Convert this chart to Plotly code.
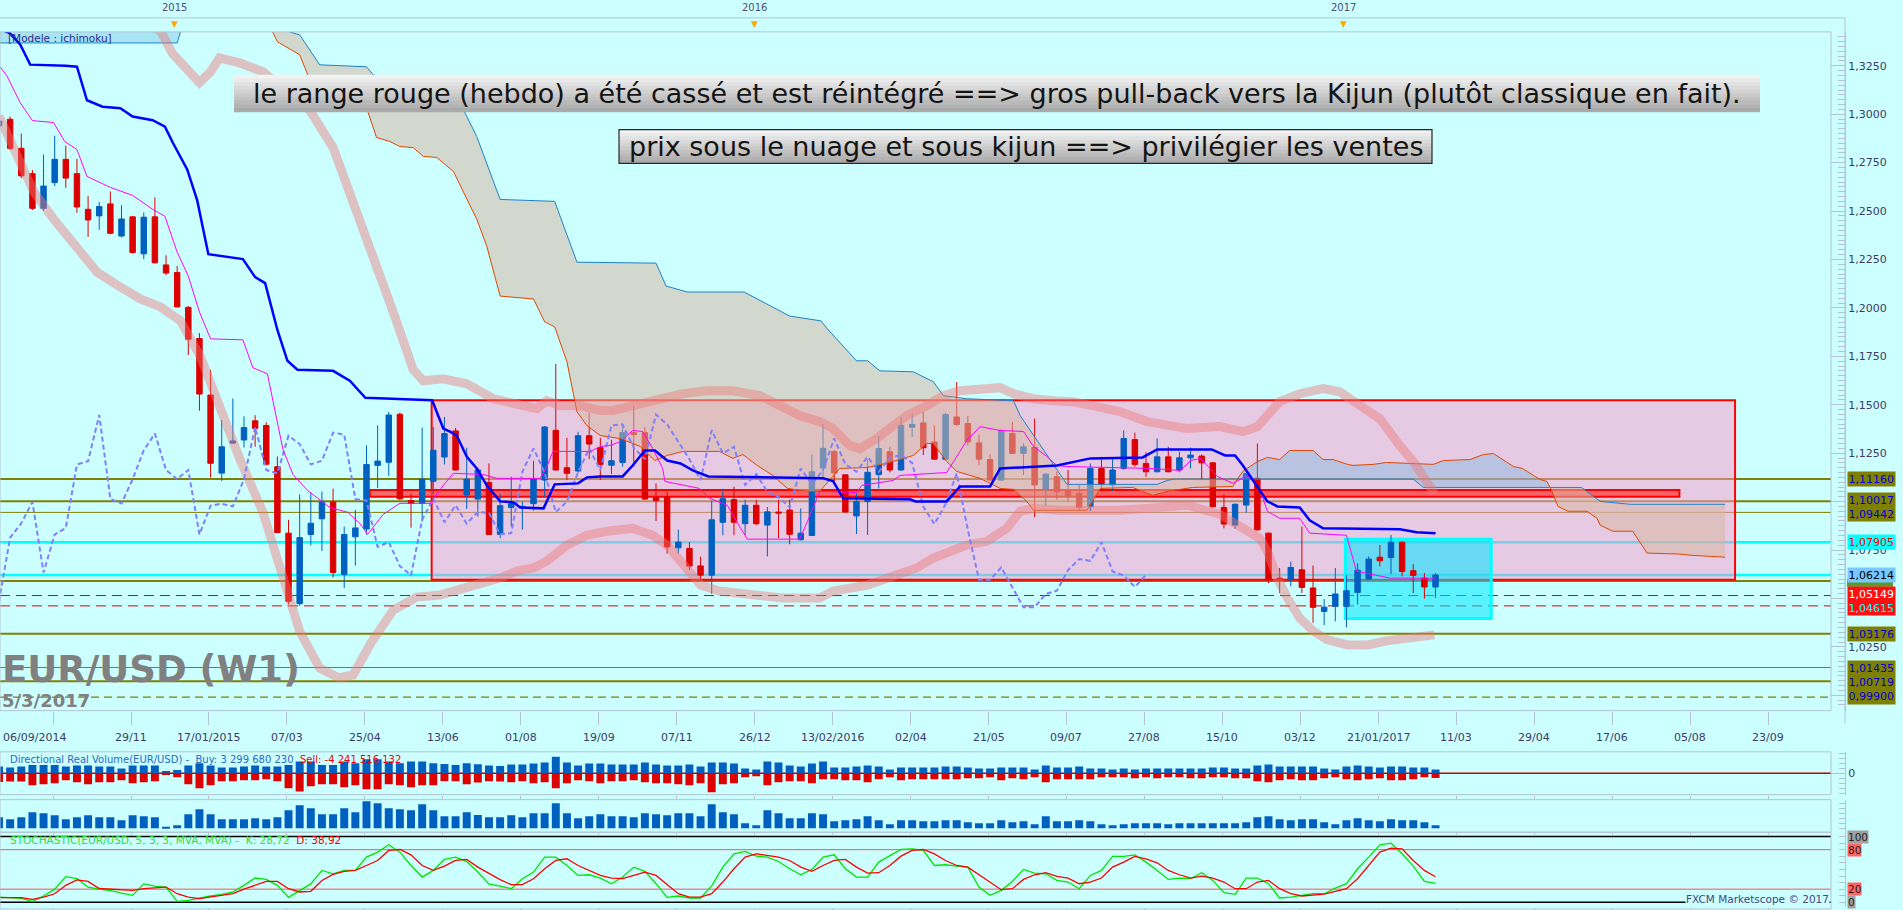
import datetime as dt
import plotly.graph_objects as go

FIG_W, FIG_H = 1903, 910
PLOT_W = 1845                       # plot area width, price labels live in the right margin
START = dt.datetime(2014, 9, 7)     # week of the first weekly candle

BG = "#ccffff"
FRAME = "#b4c3d2"
AXIS_TXT = "#3c3c64"
BULL = "#0060c0"
BEAR = "#dd0000"
OLIVE = "#808000"
FONT = "DejaVu Sans"

# ---------------- weekly EUR/USD candles (week of 07/09/2014 .. 26/02/2017) ----------------
opens = [
    1.2940, 1.2974, 1.2824, 1.2693, 1.2514, 1.2647, 1.2767, 1.2693, 1.2509, 1.2475,
    1.2537, 1.2371, 1.2470, 1.2279, 1.2470, 1.2222, 1.2183, 1.2003, 1.1842, 1.1550,
    1.1147, 1.1302, 1.1318, 1.1417, 1.1393, 1.1180, 1.0837, 1.0473, 1.0830, 1.0911,
    1.0998, 1.0623, 1.0818, 1.0858, 1.1187, 1.1203, 1.1451, 1.1005, 1.0991, 1.1105,
    1.1230, 1.1365, 1.1034, 1.1013, 1.1099, 1.0831, 1.0969, 1.0970, 1.0989, 1.1111,
    1.1368, 1.1175, 1.1158, 1.1340, 1.1279, 1.1188, 1.1202, 1.1356, 1.1356, 1.1020,
    1.1025, 1.0761, 1.0758, 1.0668, 1.0620, 1.0893, 1.1010, 1.0886, 1.0981, 1.0879,
    1.0946, 1.0956, 1.0803, 1.0825, 1.1174, 1.1258, 1.1138, 1.0926, 1.1000, 1.1140,
    1.1257, 1.1163, 1.1384, 1.1406, 1.1308, 1.1219, 1.1437, 1.1403, 1.1303, 1.1217,
    1.1111, 1.1351, 1.1249, 1.1280, 1.1063, 1.1128, 1.1054, 1.1042, 1.0974, 1.1171,
    1.1086, 1.1171, 1.1320, 1.1197, 1.1154, 1.1231, 1.1163, 1.1226, 1.1235, 1.1200,
    1.0970, 1.0879, 1.0982, 1.1120, 1.0837, 1.0605, 1.0597, 1.0648, 1.0554, 1.0433,
    1.0459, 1.0459, 1.0531, 1.0600, 1.0713, 1.0711, 1.0790, 1.0643, 1.0605, 1.0559,
]
highs = [
    1.2990, 1.2988, 1.2900, 1.2712, 1.2792, 1.2889, 1.2838, 1.2769, 1.2578, 1.2546,
    1.2601, 1.2530, 1.2475, 1.2493, 1.2571, 1.2272, 1.2217, 1.2010, 1.1870, 1.1681,
    1.1421, 1.1532, 1.1440, 1.1446, 1.1410, 1.1233, 1.0906, 1.1037, 1.1048, 1.1051,
    1.1067, 1.0871, 1.0957, 1.1290, 1.1394, 1.1463, 1.1460, 1.1040, 1.1382, 1.1386,
    1.1437, 1.1380, 1.1278, 1.1175, 1.1197, 1.1040, 1.1128, 1.1000, 1.1211, 1.1390,
    1.1711, 1.1329, 1.1360, 1.1459, 1.1329, 1.1320, 1.1389, 1.1494, 1.1386, 1.1094,
    1.1051, 1.0855, 1.0791, 1.0716, 1.1006, 1.1066, 1.1077, 1.1010, 1.1010, 1.0972,
    1.1010, 1.1010, 1.0965, 1.1243, 1.1400, 1.1267, 1.1140, 1.1043, 1.1218, 1.1339,
    1.1283, 1.1437, 1.1454, 1.1463, 1.1394, 1.1459, 1.1617, 1.1442, 1.1346, 1.1243,
    1.1372, 1.1412, 1.1300, 1.1429, 1.1145, 1.1154, 1.1163, 1.1085, 1.1197, 1.1231,
    1.1219, 1.1368, 1.1356, 1.1254, 1.1326, 1.1283, 1.1257, 1.1279, 1.1243, 1.1205,
    1.1037, 1.0990, 1.1148, 1.1300, 1.0840, 1.0657, 1.0691, 1.0871, 1.0670, 1.0497,
    1.0657, 1.0622, 1.0682, 1.0717, 1.0776, 1.0828, 1.0795, 1.0677, 1.0631, 1.0631,
]
lows = [
    1.2860, 1.2815, 1.2670, 1.2505, 1.2501, 1.2629, 1.2620, 1.2491, 1.2367, 1.2403,
    1.2380, 1.2364, 1.2279, 1.2252, 1.2229, 1.2169, 1.2003, 1.1757, 1.1469, 1.1124,
    1.1106, 1.1298, 1.1279, 1.1283, 1.1186, 1.0837, 1.0469, 1.0462, 1.0773, 1.0745,
    1.0607, 1.0554, 1.0669, 1.0830, 1.1071, 1.1133, 1.1009, 1.0865, 1.0897, 1.1039,
    1.1192, 1.1160, 1.0962, 1.0923, 1.0828, 1.0811, 1.0871, 1.0855, 1.0953, 1.1025,
    1.1160, 1.1111, 1.1150, 1.1219, 1.1111, 1.1142, 1.1180, 1.1180, 1.1010, 1.0900,
    1.0732, 1.0732, 1.0647, 1.0595, 1.0523, 1.0826, 1.0827, 1.0827, 1.0878, 1.0717,
    1.0811, 1.0780, 1.0800, 1.0822, 1.1117, 1.1100, 1.0944, 1.0833, 1.0828, 1.1068,
    1.1151, 1.1160, 1.1334, 1.1240, 1.1217, 1.1217, 1.1391, 1.1288, 1.1188, 1.1109,
    1.1108, 1.1247, 1.1137, 1.0919, 1.0977, 1.1011, 1.1000, 1.0957, 1.0951, 1.1054,
    1.1054, 1.1163, 1.1180, 1.1128, 1.1151, 1.1151, 1.1151, 1.1171, 1.1111, 1.0970,
    1.0862, 1.0859, 1.0943, 1.0850, 1.0579, 1.0528, 1.0562, 1.0528, 1.0374, 1.0362,
    1.0382, 1.0351, 1.0468, 1.0597, 1.0665, 1.0626, 1.0614, 1.0528, 1.0499, 1.0502,
]
closes = [
    1.2965, 1.2824, 1.2682, 1.2514, 1.2629, 1.2767, 1.2670, 1.2521, 1.2454, 1.2523,
    1.2385, 1.2459, 1.2286, 1.2468, 1.2233, 1.2180, 1.2005, 1.1838, 1.1555, 1.1198,
    1.1283, 1.1313, 1.1382, 1.1378, 1.1193, 1.0840, 1.0485, 1.0814, 1.0888, 1.0998,
    1.0634, 1.0830, 1.0864, 1.1191, 1.1209, 1.1447, 1.1014, 1.0990, 1.1116, 1.1265,
    1.1351, 1.1163, 1.1116, 1.1163, 1.0830, 1.0979, 1.0989, 1.0975, 1.1116, 1.1385,
    1.1163, 1.1146, 1.1340, 1.1297, 1.1192, 1.1211, 1.1356, 1.1346, 1.1013, 1.1005,
    1.0766, 1.0791, 1.0667, 1.0620, 1.0906, 1.1015, 1.0893, 1.0981, 1.0886, 1.0947,
    1.0941, 1.0831, 1.0837, 1.1154, 1.1275, 1.1148, 1.0946, 1.1000, 1.1151, 1.1274,
    1.1163, 1.1394, 1.1398, 1.1278, 1.1219, 1.1449, 1.1398, 1.1308, 1.1219, 1.1111,
    1.1368, 1.1249, 1.1283, 1.1086, 1.1142, 1.1051, 1.1025, 1.0970, 1.1171, 1.1089,
    1.1163, 1.1326, 1.1192, 1.1154, 1.1231, 1.1154, 1.1226, 1.1240, 1.1200, 1.0974,
    1.0884, 1.0986, 1.1145, 1.0854, 1.0597, 1.0597, 1.0660, 1.0557, 1.0454, 1.0455,
    1.0523, 1.0540, 1.0646, 1.0703, 1.0694, 1.0790, 1.0639, 1.0619, 1.0559, 1.06214,
]

# ---------------- ichimoku lines (x = weeks after first candle) ----------------
tenkan_wk = [0.1, 0.7, 1.9, 3.0, 4.9, 5.9, 7.0, 7.9, 10.0, 12.0, 13.8, 14.9, 16.0, 17.0, 18.0,
             19.0, 21.9, 22.8, 24.1, 25.0, 25.5, 26.4, 27.7, 29.7, 31.3, 32.4, 33.1, 34.5, 36.0, 38.7,
             39.9, 40.8, 43.5, 44.7, 48.6, 49.2, 49.75, 53.1, 54.0, 54.9, 55.8, 56.9, 57.8, 58.7, 59.6,
             59.8, 62.9, 63.8, 65.4, 65.9, 67.2, 71.9, 72.6, 73.7, 77.0, 77.5, 80.3, 80.9, 85.1, 86.3,
             86.9, 88.1, 89.9, 92.0, 92.9, 94.1, 95.0, 95.9, 101.8, 103.4, 106.1, 107.0, 107.9, 109.4, 110.8,
             112.1, 113.2, 113.9, 115.0, 116.8, 117.7, 121.0, 121.9, 124.9, 129.0]
tenkan_val = [1.3245, 1.3199, 1.3060, 1.2967, 1.2957, 1.2859, 1.2818, 1.2679, 1.2622, 1.2581, 1.2509, 1.2473, 1.2288, 1.2164, 1.1979,
              1.1840, 1.1835, 1.1691, 1.1660, 1.1403, 1.1269, 1.1140, 1.1058, 1.0970, 1.0945, 1.0888, 1.0831, 1.0934, 1.0991, 1.0991,
              1.1084, 1.1146, 1.1140, 1.1120, 1.1120, 1.1181, 1.1259, 1.1259, 1.1284, 1.1290, 1.1310, 1.1367, 1.1362, 1.1274, 1.1171,
              1.1104, 1.1068, 1.1017, 1.0981, 1.0929, 1.0806, 1.0806, 1.0898, 1.1053, 1.1047, 1.1084, 1.1109, 1.1135, 1.1150, 1.1259,
              1.1315, 1.1387, 1.1367, 1.1362, 1.1284, 1.1233, 1.1186, 1.1181, 1.1176, 1.1171, 1.1161, 1.1212, 1.1223, 1.1130, 1.1094,
              1.1135, 1.1068, 1.0950, 1.0914, 1.0914, 1.0837, 1.0826, 1.0641, 1.0605, 1.0605]

kijun_wk = [0.1, 1.0, 1.9, 2.8, 6.0, 7.0, 7.9, 9.3, 10.9, 12.0, 13.8, 14.9, 15.6, 16.9, 17.8,
            18.8, 21.9, 23.0, 23.9, 25.0, 25.9, 26.8, 30.0, 31.5, 32.9, 38.9, 39.3, 39.9, 40.5, 41.1,
            42.0, 42.9, 43.8, 45.0, 46.2, 46.8, 48.9, 49.3, 49.9, 52.0, 52.8, 54.0, 56.0, 56.9, 58.0,
            58.9, 60.0, 61.2, 62.3, 63.7, 74.0, 74.9, 75.8, 81.8, 82.3, 85.1, 86.3, 89.0, 89.9, 95.0,
            98.0, 102.7, 104.0, 108.9, 110.1, 111.0, 111.7, 113.9, 114.8, 116.8, 117.7, 118.9, 125.8, 127.3, 129.0]
kijun_val = [1.3440, 1.3417, 1.3360, 1.3256, 1.3250, 1.3245, 1.3072, 1.3039, 1.3031, 1.2988, 1.2969, 1.2936, 1.2854, 1.2715, 1.2555,
             1.2277, 1.2252, 1.2159, 1.2128, 1.1886, 1.1727, 1.1681, 1.1675, 1.1624, 1.1536, 1.1523, 1.1464, 1.1377, 1.1361, 1.1341,
             1.1233, 1.1171, 1.1084, 1.1001, 1.0996, 1.0970, 1.0965, 1.1017, 1.1089, 1.1094, 1.1125, 1.1130, 1.1130, 1.1186, 1.1264,
             1.1264, 1.1212, 1.1197, 1.1161, 1.1130, 1.1120, 1.1106, 1.1017, 1.1012, 1.1001, 1.1001, 1.1078, 1.1078, 1.1171, 1.1186,
             1.1223, 1.1228, 1.1269, 1.1269, 1.1238, 1.1238, 1.1186, 1.1001, 1.0975, 1.0970, 1.0903, 1.0862, 1.0857, 1.0842, 1.0837]

senkou_a_wk = [0, 23.8, 24.4, 25.0, 27.0, 27.9, 31.5, 33.0, 33.9, 35.1, 36.0, 37.2, 38.1, 39.3, 40.8,
               42.9, 43.8, 45.0, 48.0, 49.0, 49.9, 51.0, 51.9, 52.8, 54.0, 55.8, 57.6, 58.9, 60.0, 61.4,
               64.7, 65.9, 66.8, 68.1, 69.5, 70.8, 72.6, 73.7, 75.5, 78.0, 80.0, 82.1, 83.3, 83.9, 85.1,
               86.0, 88.1, 89.9, 91.1, 92.3, 92.9, 97.7, 98.9, 101.8, 103.6, 104.9, 107.2, 110.8, 111.2, 111.7,
               113.0, 113.9, 115.0, 115.9, 118.0, 118.9, 119.8, 121.1, 121.6, 123.4, 124.6, 127.3, 128.8, 129.7, 132.1,
               133.3, 134.2, 136.0, 136.8, 137.8, 138.4, 139.0, 139.3, 140.0, 140.9, 142.6, 143.5, 143.8, 144.9, 146.7,
               148.0, 150.9, 151.9, 153.4, 155.0]
senkou_a_val = [1.3700, 1.3700, 1.3445, 1.3374, 1.3307, 1.3178, 1.3127, 1.3034, 1.2880, 1.2859, 1.2833, 1.2828, 1.2782, 1.2777, 1.2705,
                1.2458, 1.2319, 1.2061, 1.2046, 1.1928, 1.1902, 1.1722, 1.1464, 1.1392, 1.1341, 1.1325, 1.1284, 1.1212, 1.1238, 1.1259,
                1.1259, 1.1223, 1.1243, 1.1186, 1.1135, 1.1068, 1.1053, 1.1053, 1.1171, 1.1176, 1.1202, 1.1238, 1.1300, 1.1300, 1.1207,
                1.1156, 1.1120, 1.1068, 1.1063, 1.1001, 1.0955, 1.0955, 1.1068, 1.1073, 1.1032, 1.1053, 1.1073, 1.1078, 1.1116, 1.1156,
                1.1207, 1.1228, 1.1217, 1.1264, 1.1264, 1.1217, 1.1217, 1.1192, 1.1187, 1.1192, 1.1202, 1.1197, 1.1192, 1.1212, 1.1217,
                1.1243, 1.1248, 1.1181, 1.1171, 1.1135, 1.1114, 1.1104, 1.1073, 1.0975, 1.0950, 1.0950, 1.0914, 1.0878, 1.0847, 1.0847,
                1.0734, 1.0729, 1.0723, 1.0718, 1.0713]

senkou_b_wk = [0, 16.0, 16.4, 24.4, 26.0, 26.1, 27.0, 28.8, 33.0, 33.6, 41.7, 42.9, 45.0, 49.9, 51.9,
               59.0, 59.9, 61.8, 66.9, 71.0, 73.8, 74.4, 77.0, 78.0, 79.1, 82.1, 83.9, 84.8, 86.9, 91.1,
               91.7, 92.9, 94.1, 95.9, 104.0, 104.9, 105.5, 111.2, 127.0, 127.9, 139.3, 142.1, 143.8, 146.5, 155.0]
senkou_b_val = [1.3368, 1.3368, 1.3445, 1.3445, 1.3440, 1.3425, 1.3410, 1.3255, 1.3245, 1.3204, 1.3024, 1.2885, 1.2560, 1.2550, 1.2236,
                1.2231, 1.2113, 1.2082, 1.2082, 1.1958, 1.1933, 1.1891, 1.1727, 1.1727, 1.1675, 1.1670, 1.1619, 1.1547, 1.1531, 1.1521,
                1.1444, 1.1341, 1.1238, 1.1089, 1.1089, 1.1109, 1.1116, 1.1116, 1.1116, 1.1073, 1.1073, 1.1073, 1.1001, 1.0986, 1.0986]

# cloud pieces between the crossings of senkou A and B: (from week, to week, A above B?)
cloud_parts = [(0, 24.4, True), (24.4, 111.2, False), (111.2, 139.3, True), (139.3, 155.0, False)]

# thick pink envelope (upper / lower band)
upper_wk = [13.0, 14.5, 15.6, 16.9, 18.0, 19.0, 19.8, 21.6, 23.7, 25.5, 27.7, 30.0, 31.8, 33.6, 35.4,
            37.2, 38.1, 39.9, 42.0, 44.4, 46.5, 48.3, 49.2, 50.4, 52.2, 54.0, 55.1, 56.9, 59.4, 61.4,
            63.6, 65.9, 68.3, 70.1, 71.9, 73.7, 74.9, 76.4, 77.3, 78.8, 80.0, 81.5, 83.3, 84.8, 86.3,
            88.1, 89.9, 91.1, 92.9, 94.7, 96.4, 98.2, 100.7, 103.1, 104.9, 106.7, 109.6, 111.7, 113.0, 113.9,
            115.0, 116.8, 118.9, 120.4, 122.2, 124.0, 125.8, 127.0, 128.2, 128.9]
upper_val = [1.3480, 1.3430, 1.3312, 1.3235, 1.3163, 1.3219, 1.3291, 1.3265, 1.3219, 1.3132, 1.3039, 1.2828, 1.2555, 1.2257, 1.1979,
             1.1681, 1.1624, 1.1634, 1.1608, 1.1531, 1.1506, 1.1480, 1.1521, 1.1495, 1.1495, 1.1470, 1.1470, 1.1495, 1.1531, 1.1557,
             1.1572, 1.1572, 1.1547, 1.1495, 1.1444, 1.1413, 1.1377, 1.1289, 1.1274, 1.1325, 1.1377, 1.1444, 1.1495, 1.1547, 1.1572,
             1.1583, 1.1588, 1.1557, 1.1531, 1.1521, 1.1516, 1.1495, 1.1464, 1.1413, 1.1392, 1.1377, 1.1387, 1.1361, 1.1387, 1.1444,
             1.1516, 1.1557, 1.1583, 1.1567, 1.1495, 1.1428, 1.1289, 1.1207, 1.1104, 1.1042]
lower_wk = [0.0, 1.3, 3.1, 4.85, 7.0, 8.8, 10.6, 12.7, 14.5, 16.3, 18.1, 19.6, 21.6, 23.7, 25.5,
            27.0, 28.8, 30.5, 31.8, 33.4, 35.4, 37.5, 39.6, 42.0, 45.0, 46.5, 48.0, 49.2, 51.0, 52.8,
            54.6, 56.9, 58.7, 60.0, 61.8, 63.0, 64.7, 67.2, 70.4, 73.7, 74.9, 78.0, 80.9, 82.4, 83.9,
            85.4, 86.9, 88.7, 90.5, 91.7, 92.9, 95.3, 97.7, 100.7, 103.1, 104.9, 106.7, 109.6, 111.4, 113.2,
            113.9, 114.8, 115.7, 116.8, 118.0, 119.3, 121.1, 122.9, 124.6, 126.4, 128.2, 128.9]
lower_val = [1.2990, 1.2828, 1.2602, 1.2463, 1.2303, 1.2185, 1.2118, 1.2046, 1.2005, 1.1933, 1.1747, 1.1521, 1.1223, 1.0945, 1.0600,
             1.0330, 1.0140, 1.0090, 1.0105, 1.0270, 1.0440, 1.0507, 1.0518, 1.0554, 1.0605, 1.0641, 1.0657, 1.0693, 1.0775, 1.0826,
             1.0847, 1.0862, 1.0826, 1.0775, 1.0657, 1.0569, 1.0538, 1.0518, 1.0502, 1.0502, 1.0538, 1.0569, 1.0620, 1.0657, 1.0708,
             1.0744, 1.0775, 1.0795, 1.0862, 1.0950, 1.0965, 1.0955, 1.0950, 1.0955, 1.0965, 1.0975, 1.0981, 1.0935, 1.0878, 1.0811,
             1.0744, 1.0605, 1.0502, 1.0399, 1.0332, 1.0286, 1.0260, 1.0260, 1.0281, 1.0296, 1.0312, 1.0312]

# ---------------- drawn objects ----------------
range_box = (38.85, 155.9, 1.0596, 1.1523)      # weeks from, weeks to, low, high
weekly_bar = (33.3, 150.9, 1.1025, 1.1060)
cyan_box = (120.9, 134.0, 1.0396, 1.0806)

level_prices = [1.05900, 1.11160, 1.10017, 1.09442, 1.07905, 1.06214, 1.05149, 1.04615,
                1.03176, 1.01435, 1.00719, 0.99900]
level_kinds = ["olive", "olive", "olive", "olive_thin", "cyan", "last", "red", "red",
               "olive", "olive_thin", "olive", "olive_dash"]
level_fg = ["#0000dd", "#0000dd", "#0000dd", "#0000dd", "#ff0000", "#000000", "#ffffff", "#00ffff",
            "#0000dd", "#0000dd", "#0000dd", "#0000dd"]
# price tags in the right margin: levels sharing one tag, and the tag colour
tag_groups = [[1], [2, 3], [4], [5], [6, 7], [8], [9, 10, 11]]
tag_bg = [OLIVE, OLIVE, "#00ffff", "#78c8ff", "#ff1010", OLIVE, OLIVE]

# price axis: ticks every 0,0250; the labels sitting under a price tag are not readable
price_ticks = [1.0000, 1.0250, 1.0500, 1.0750, 1.1000, 1.1250, 1.1500, 1.1750,
               1.2000, 1.2250, 1.2500, 1.2750, 1.3000, 1.3250]
price_tick_text = ["", "1,0250", "", "1,0750", "", "1,1250", "1,1500", "1,1750",
                   "1,2000", "1,2250", "1,2500", "1,2750", "1,3000", "1,3250"]

# ---------------- lower panels ----------------
buy_volume = [
    6.0, 5.1, 6.0, 7.5, 7.5, 7.5, 6.0, 6.9, 6.9, 6.0,
    6.0, 4.2, 6.9, 6.9, 6.9, 2.1, 3.0, 6.9, 9.0, 6.9,
    5.1, 5.1, 6.0, 6.9, 6.0, 6.0, 7.5, 10.5, 10.5, 7.5,
    7.5, 10.5, 9.0, 12.6, 12.6, 10.5, 9.0, 10.5, 10.5, 9.0,
    8.4, 7.5, 9.0, 8.1, 6.9, 6.6, 7.8, 7.8, 8.7, 9.6,
    15.0, 9.6, 6.9, 8.7, 8.7, 7.8, 7.8, 7.8, 9.6, 7.8,
    6.9, 6.9, 7.8, 6.0, 9.6, 9.6, 8.7, 4.2, 3.3, 10.5,
    9.6, 6.9, 6.0, 8.7, 10.5, 5.1, 5.1, 6.0, 6.9, 6.0,
    3.3, 5.1, 5.1, 5.1, 5.1, 6.0, 6.0, 5.1, 4.2, 4.2,
    5.1, 5.1, 5.1, 3.3, 6.9, 5.1, 5.1, 6.0, 4.2, 4.2,
    3.3, 4.2, 3.3, 4.2, 4.2, 4.2, 4.2, 4.2, 4.2, 5.1,
    5.1, 4.2, 4.2, 6.9, 7.8, 6.0, 6.0, 6.0, 6.0, 4.2,
    3.3, 6.0, 6.9, 6.0, 5.1, 6.0, 6.0, 5.1, 5.1, 3.30,
]
sell_volume = [
    7.8, 7.5, 7.5, 10.8, 9.9, 9.0, 6.3, 8.1, 9.9, 8.1,
    8.1, 6.3, 9.0, 8.1, 7.2, 1.5, 3.6, 9.9, 13.5, 10.8,
    7.2, 7.2, 6.3, 6.3, 5.4, 7.2, 13.5, 16.5, 11.7, 9.9,
    9.9, 12.6, 10.8, 14.4, 14.4, 9.9, 10.8, 12.6, 10.8, 10.8,
    7.2, 7.2, 9.9, 8.4, 7.2, 7.5, 8.1, 7.2, 9.0, 8.1,
    13.5, 9.0, 6.3, 7.2, 9.0, 7.2, 7.2, 6.3, 8.1, 9.0,
    9.0, 9.9, 10.8, 9.0, 17.1, 9.9, 9.0, 3.6, 2.7, 10.8,
    8.1, 7.2, 7.2, 9.0, 5.4, 5.4, 6.3, 6.3, 8.1, 5.4,
    3.6, 6.3, 5.4, 5.4, 5.4, 5.4, 5.4, 4.5, 4.5, 3.6,
    6.3, 4.5, 5.4, 3.6, 8.1, 5.4, 5.4, 5.4, 5.4, 3.6,
    3.6, 3.6, 4.5, 3.6, 4.5, 3.6, 3.6, 4.5, 4.5, 3.6,
    3.6, 4.5, 4.5, 7.2, 8.1, 6.3, 5.4, 6.3, 6.3, 4.5,
    3.6, 5.4, 6.3, 5.4, 4.5, 6.3, 6.3, 5.4, 3.6, 4.24,
]
total_volume = [
    9.9, 8.1, 9.9, 14.4, 13.5, 11.7, 8.1, 9.9, 11.7, 9.9,
    9.9, 7.2, 11.7, 10.8, 9.9, 0.9, 2.7, 12.6, 17.1, 12.6,
    8.1, 8.1, 8.1, 9.0, 8.1, 9.9, 16.2, 20.7, 18.0, 12.6,
    12.6, 18.0, 14.4, 24.3, 22.5, 18.0, 17.1, 16.2, 21.6, 16.2,
    10.8, 10.8, 14.4, 12.0, 9.9, 9.9, 11.7, 9.9, 13.5, 13.5,
    22.5, 13.5, 9.0, 10.8, 12.6, 10.8, 10.8, 9.9, 13.5, 12.6,
    11.7, 13.5, 13.5, 10.8, 21.6, 14.4, 12.6, 4.5, 2.7, 16.2,
    13.5, 9.0, 9.0, 13.5, 12.6, 6.3, 7.2, 8.1, 10.8, 7.2,
    3.6, 7.2, 7.2, 6.3, 6.3, 7.2, 7.2, 5.4, 4.5, 4.5,
    7.2, 5.4, 6.3, 3.6, 10.8, 6.3, 6.3, 7.2, 6.3, 3.6,
    2.7, 3.6, 4.5, 4.5, 4.5, 3.6, 4.5, 4.5, 4.5, 4.5,
    4.5, 4.5, 5.4, 9.9, 10.8, 8.1, 7.2, 8.1, 8.1, 5.4,
    3.6, 7.2, 9.0, 7.2, 6.3, 8.1, 7.2, 7.2, 5.4, 2.7,
]
stoch_k = [
    8, 7, 6, 1.5, 9.6, 20, 39, 36, 23, 20,
    18, 14, 10.6, 28, 24.7, 23, 1.5, 3, 6.6, 9.6,
    12, 15.7, 25.8, 36.9, 34.8, 25.8, 7.6, 18, 28, 48.5,
    43.4, 48.5, 48.5, 68.7, 76.3, 87.4, 76.3, 56, 38.4, 48.5,
    65.2, 68.7, 62, 46, 27.5, 24.7, 20.7, 35.9, 46, 68.7,
    68.7, 56, 40.9, 41.9, 36.9, 28.3, 38.4, 53.5, 47, 28.3,
    7.6, 9.6, 6.6, 6.6, 25, 53.5, 73.7, 77.3, 70.2, 68.7,
    62.1, 51, 41.9, 50, 68.7, 72.2, 51, 38.4, 38.4, 61.1,
    70.2, 80.3, 81.3, 78.8, 56, 57.1, 55, 53.5, 23.2, 10.6,
    18.2, 31.8, 50, 44.4, 43.4, 33.3, 30.8, 20.7, 40.9, 48.5,
    69.7, 69.7, 72.2, 61.1, 48.5, 34.8, 36.9, 35.9, 45, 33.3,
    14.6, 12.1, 36.9, 36.9, 28.3, 6.6, 8, 10.6, 13.1, 13.1,
    21.7, 28.3, 51, 68.7, 87.4, 89.9, 73.7, 55, 31.8, 28.72,
]
stoch_d = [
    7, 7.4, 7, 4.5, 8, 13, 25.8, 34, 31.8, 21,
    19.7, 18.5, 18.2, 20.7, 22.2, 23.2, 13.1, 8, 5.6, 8,
    11, 13.1, 20, 25.8, 31.8, 31.8, 20.7, 15.7, 16.7, 33.3,
    42.4, 47, 48.5, 56, 63.6, 78.8, 80.3, 72.2, 56, 48.5,
    55, 63.6, 65.2, 53.5, 44, 34.5, 26.8, 26.8, 35.9, 51,
    63.6, 66.2, 56, 48.5, 40.9, 36.9, 35.9, 40.9, 46, 40.9,
    26.8, 13.1, 8, 8, 13.1, 30.8, 51, 68.7, 73.7, 71.2,
    68.7, 63.6, 53.5, 47, 56, 63.6, 65.2, 53.5, 44.4, 45,
    56, 70.2, 78.8, 80.3, 73.7, 63.6, 56, 53.5, 41.9, 29.8,
    19.2, 20.7, 34.8, 41.9, 45, 39.4, 36.9, 28.3, 30.8, 36.9,
    53.5, 61.1, 69.7, 66.2, 60.1, 48.5, 41.9, 36.9, 39.9, 36.9,
    30.8, 20.7, 20.7, 30.8, 33.3, 20.7, 13.1, 9.6, 11.6, 12.6,
    16.7, 20.7, 35.9, 56, 76.3, 82.3, 81.3, 63.6, 48.5, 38.92,
]

# ---------------- axis labels ----------------
axis_tick_dates = ["2014-10-11", "2014-11-29", "2015-01-17", "2015-03-07", "2015-04-25", "2015-06-13",
                   "2015-08-01", "2015-09-19", "2015-11-07", "2015-12-26", "2016-02-13", "2016-04-02",
                   "2016-05-21", "2016-07-09", "2016-08-27", "2016-10-15", "2016-12-03", "2017-01-21",
                   "2017-03-11", "2017-04-29", "2017-06-17", "2017-08-05", "2017-09-23"]
axis_tick_text = ["", "29/11", "17/01/2015", "07/03", "25/04", "13/06",
                  "01/08", "19/09", "07/11", "26/12", "13/02/2016", "02/04",
                  "21/05", "09/07", "27/08", "15/10", "03/12", "21/01/2017",
                  "11/03", "29/04", "17/06", "05/08", "23/09"]
year_text = ["2015", "2016", "2017"]
year_wk = [15.8, 67.8, 120.75]


def wk(n):
    return START + dt.timedelta(weeks=n)


def px(x):
    return x / PLOT_W


def py(y):
    return 1 - y / FIG_H


dates = [wk(i) for i in range(len(closes))]
X_RANGE = [wk(0.0898), wk(165.77)]
RIGHT_IN = px(1831)

fig = go.Figure()

fig.add_trace(go.Candlestick(
    x=dates, open=opens, high=highs, low=lows, close=closes,
    increasing=dict(line=dict(color=BULL, width=1), fillcolor=BULL),
    decreasing=dict(line=dict(color=BEAR, width=1), fillcolor=BEAR),
    whiskerwidth=0, hoverinfo="skip"))

# kumo
for w0, w1, bullish in cloud_parts:
    a = [(w, v) for w, v in zip(senkou_a_wk, senkou_a_val) if w0 <= w <= w1]
    b = [(w, v) for w, v in zip(senkou_b_wk, senkou_b_val) if w0 <= w <= w1]
    pts = a + b[::-1]
    fig.add_trace(go.Scatter(
        x=[wk(w) for w, _ in pts], y=[v for _, v in pts], mode="lines",
        fill="toself", line=dict(width=0),
        fillcolor="rgba(100,180,220,0.35)" if bullish else "rgba(215,184,164,0.55)",
        hoverinfo="skip"))

fig.add_trace(go.Scatter(x=[wk(w) for w in senkou_a_wk], y=senkou_a_val, mode="lines",
                         line=dict(color="#e04800", width=1)))
fig.add_trace(go.Scatter(x=[wk(w) for w in senkou_b_wk], y=senkou_b_val, mode="lines",
                         line=dict(color="#1e82c8", width=1)))

for wks, vals in ((upper_wk, upper_val), (lower_wk, lower_val)):
    fig.add_trace(go.Scatter(x=[wk(w) for w in wks], y=vals, mode="lines",
                             line=dict(color="rgba(240,120,120,0.45)", width=9)))

# chikou = closes drawn 26 weeks back
fig.add_trace(go.Scatter(x=dates[:len(closes) - 26], y=closes[26:], mode="lines",
                         line=dict(color="#8080ff", width=2, dash="5px,3px")))
fig.add_trace(go.Scatter(x=[wk(w) for w in tenkan_wk], y=tenkan_val, mode="lines",
                         line=dict(color="#ff00ff", width=1)))
fig.add_trace(go.Scatter(x=[wk(w) for w in kijun_wk], y=kijun_val, mode="lines",
                         line=dict(color="#0000ff", width=2.5)))

BAR_W = 5 * 24 * 3600 * 1000
fig.add_trace(go.Bar(x=dates, y=buy_volume, width=BAR_W, marker=dict(color=BULL, line_width=0),
                     xaxis="x2", yaxis="y2"))
fig.add_trace(go.Bar(x=dates, y=[-v for v in sell_volume], width=BAR_W,
                     marker=dict(color=BEAR, line_width=0), xaxis="x2", yaxis="y2"))
fig.add_trace(go.Bar(x=dates, y=total_volume, width=BAR_W, marker=dict(color=BULL, line_width=0),
                     xaxis="x3", yaxis="y3"))
fig.add_trace(go.Scatter(x=dates, y=stoch_k, mode="lines", line=dict(color="#00e600", width=1.3),
                         xaxis="x4", yaxis="y4"))
fig.add_trace(go.Scatter(x=dates, y=stoch_d, mode="lines", line=dict(color="#ff0000", width=1.3),
                         xaxis="x4", yaxis="y4"))

# ---------------- shapes ----------------
shapes = []
for (w0, w1, lo, hi), fill, edge, lw in (
        (range_box, "rgba(255,150,200,0.5)", "#ff0000", 2),
        (cyan_box, "rgba(0,230,255,0.55)", "#00ffff", 3),
        (weekly_bar, "rgba(255,70,70,0.8)", "#ff0000", 2)):
    shapes.append(dict(type="rect", xref="x", yref="y", x0=wk(w0), x1=wk(w1), y0=lo, y1=hi,
                       fillcolor=fill, line=dict(color=edge, width=lw), layer="below"))

line_style = {
    "olive": dict(color=OLIVE, width=2),
    "olive_thin": dict(color=OLIVE, width=1),
    "olive_dash": dict(color=OLIVE, width=1.2, dash="8px,5px"),
    "cyan": dict(color="#00ffff", width=2.5),
    "last": dict(color="#00ffff", width=2.5),
    "red": dict(color="#dd0000", width=1, dash="10px,6px"),
}
for price, kind in zip(level_prices, level_kinds):
    shapes.append(dict(type="line", xref="paper", yref="y", x0=0, x1=RIGHT_IN, y0=price, y1=price,
                       line=line_style[kind], layer="below"))

# the tag of the 1,05900 level is hidden under its neighbours: only a sliver shows
shapes.append(dict(type="rect", xref="paper", yref="y", x0=px(1847), x1=px(1893),
                   y0=level_prices[0] - 0.0030, y1=level_prices[0] + 0.0010,
                   fillcolor="#5c9a28", line=dict(width=0)))

# frames
shapes.append(dict(type="rect", xref="paper", yref="paper", x0=0, x1=RIGHT_IN, y0=py(713), y1=py(32),
                   line=dict(color=FRAME, width=1), layer="above"))
shapes.append(dict(type="line", xref="paper", yref="paper", x0=0, x1=1, y0=py(18), y1=py(18),
                   line=dict(color=FRAME, width=1)))
shapes.append(dict(type="line", xref="paper", yref="paper", x0=1, x1=1, y0=py(18), y1=py(726),
                   line=dict(color=FRAME, width=1)))
for top, bottom in ((754.3, 797.3), (802.3, 835), (835, 912)):
    shapes.append(dict(type="rect", xref="paper", yref="paper", x0=0, x1=RIGHT_IN,
                       y0=py(bottom), y1=py(top), line=dict(color=FRAME, width=1)))
shapes.append(dict(type="line", xref="paper", yref="y2", x0=0, x1=RIGHT_IN, y0=0, y1=0,
                   line=dict(color="#c80000", width=1.3), layer="below"))
for lvl, col, lw in ((100, "#000000", 1.5), (80, "#ff5050", 1), (20, "#ff5050", 1), (0, "#000000", 1.5)):
    shapes.append(dict(type="line", xref="paper", yref="y4", x0=0, x1=RIGHT_IN, y0=lvl, y1=lvl,
                       line=dict(color=col, width=lw), layer="below"))


def gradient_box(x0, x1, y0, y1, border=None, steps=10):
    out = []
    h = (y1 - y0) / steps
    for i in range(steps):
        g = int(242 - 72 * i / (steps - 1))
        out.append(dict(type="rect", xref="paper", yref="paper", x0=px(x0), x1=px(x1),
                        y0=py(y0 + i * h), y1=py(y0 + (i + 1) * h + 0.5),
                        fillcolor=f"rgb({g},{g},{g})", line=dict(width=0), layer="above"))
    if border:
        out.append(dict(type="rect", xref="paper", yref="paper", x0=px(x0), x1=px(x1),
                        y0=py(y1), y1=py(y0), line=dict(color=border, width=1.2), layer="above"))
    return out


shapes += gradient_box(234, 1760, 75, 112)
shapes += gradient_box(619, 1432, 130, 164, border="#282828")

# ---------------- annotations ----------------
ann = []


def note(text, x, y, xref="paper", yref="paper", xanchor="left", size=11, color=AXIS_TXT, **kw):
    ann.append(dict(text=text, x=x, y=y, xref=xref, yref=yref, xanchor=xanchor, yanchor="middle",
                    showarrow=False, font=dict(family=FONT, size=size, color=color), **kw))


for group, bg in zip(tag_groups, tag_bg):
    lines = [f"<span style='color:{level_fg[i]}'>{level_prices[i]:.5f}</span>".replace(".", ",")
             for i in group]
    mid = (level_prices[group[0]] + level_prices[group[-1]]) / 2
    note("<br>".join(lines), px(1847), mid, yref="y", size=11, color=level_fg[group[0]],
         bgcolor=bg, borderpad=0.5, align="left")

note("le range rouge (hebdo) a été cassé et est réintégré ==> gros pull-back vers la Kijun (plutôt classique en fait).",
     px(997), py(93.5), xanchor="center", size=27, color="#141414")
note("prix sous le nuage et sous kijun ==> privilégier les ventes",
     px(1025.5), py(147), xanchor="center", size=27, color="#141414")
note("<b>EUR/USD (W1)</b>", px(0), py(672), size=37, color="#808080")
note("<b>5/3/2017</b>", px(0), py(703), size=18, color="#808080")
note("[Modele : ichimoku]", px(6), py(38), size=10.5, color="#2a2a8c")

for txt, w in zip(year_text, year_wk):
    note(txt, wk(w), py(8), xref="x", xanchor="center", size=10, color="#505070")
    note("▼", wk(w), py(24), xref="x", xanchor="center", size=9, color="#ffaa00")

note("06/09/2014", px(1), py(740), size=11)
for d, txt in zip(axis_tick_dates, axis_tick_text):
    if txt:
        note(txt, d, py(740), xref="x", xanchor="center", size=11)

note("Directional Real Volume(EUR/USD) -\u00a0 Buy: 3 299 680 230\u00a0 "
     "<span style='color:#ee0000'>Sell: -4 241 516 132</span>",
     px(8), py(762), size=10, color="#2a6ac8")
note("STOCHASTIC(EUR/USD, 5, 3, 3, MVA, MVA) -\u00a0 K: 28,72\u00a0 "
     "<span style='color:#ee0000'>D: 38,92</span>",
     px(8), py(843), size=10.5, color="#33dd33")
for lvl, txt, bg in ((100, "100", "#a0a0a0"), (80, "80", "#ff6464"), (20, "20", "#ff6464"), (0, "0", "#a0a0a0")):
    note(txt, px(1847), lvl, yref="y4", size=10.5, color="#222222", bgcolor=bg, borderpad=0)
note("FXCM Marketscope © 2017", px(1830), py(902), xanchor="right", size=10.5, color="#464682",
     bgcolor=BG, borderpad=0)

# ---------------- layout ----------------
base_x = dict(type="date", range=X_RANGE, showgrid=False, zeroline=False, showticklabels=False)
right_y = dict(side="right", anchor="free", position=1, showgrid=False, zeroline=False,
               showline=True, linecolor=FRAME, tickcolor=FRAME, ticks="inside")

fig.update_layout(
    width=FIG_W, height=FIG_H,
    margin=dict(l=0, r=FIG_W - PLOT_W, t=0, b=0, pad=0),
    paper_bgcolor=BG, plot_bgcolor=BG,
    font=dict(family=FONT, size=11, color=AXIS_TXT),
    showlegend=False, hovermode=False, barmode="overlay",
    xaxis=dict(base_x, domain=[0, 1], anchor="y", rangeslider=dict(visible=False),
               tickmode="array", tickvals=axis_tick_dates, ticks="outside", ticklen=13,
               tickcolor=FRAME, showline=False),
    xaxis2=dict(base_x, anchor="y2", matches="x", tickmode="array", tickvals=axis_tick_dates,
                ticks="outside", ticklen=3, tickcolor=FRAME),
    xaxis3=dict(base_x, anchor="y3", matches="x", tickmode="array", tickvals=axis_tick_dates,
                ticks="outside", ticklen=3, tickcolor=FRAME),
    xaxis4=dict(base_x, anchor="y4", matches="x", tickmode="array", tickvals=axis_tick_dates,
                ticks="outside", ticklen=3, tickcolor=FRAME),
    xaxis5=dict(base_x, overlaying="x", anchor="free", position=py(726), ticks="inside", ticklen=5,
                tick0="2014-09-06", dtick=7 * 24 * 3600 * 1000, tickcolor=FRAME,
                showline=True, linecolor=FRAME),
    xaxis6=dict(base_x, overlaying="x", anchor="free", position=py(18), side="top", ticks="inside",
                ticklen=4, tick0=wk(2.93), dtick=int(6.5 * 7 * 24 * 3600 * 1000), tickcolor=FRAME),
    yaxis=dict(right_y, domain=[py(713), py(32)], range=[0.99206, 1.3425],
               tickmode="array", tickvals=price_ticks, ticktext=price_tick_text, ticklen=14,
               minor=dict(ticks="inside", ticklen=7, tickmode="linear", tick0=1.0, dtick=0.0025,
                          tickcolor=FRAME),
               tickfont=dict(size=11, color=AXIS_TXT)),
    yaxis2=dict(right_y, domain=[py(797.3), py(754.3)], range=[-19.35, 19.35],
                tickmode="array", tickvals=[0], ticktext=["0"], ticklen=14,
                minor=dict(ticks="inside", ticklen=6, tickmode="linear", tick0=0, dtick=4.5, tickcolor=FRAME),
                tickfont=dict(size=11, color=AXIS_TXT)),
    yaxis3=dict(right_y, domain=[py(835), py(802.3)], range=[-3.6, 25.8],
                showticklabels=False, ticklen=6, tick0=0, dtick=4.5),
    yaxis4=dict(right_y, domain=[0, py(835)], range=[-7.1, 106.5],
                showticklabels=False, ticklen=6, tick0=0, dtick=10),
    shapes=shapes,
    annotations=ann,
)

fig.write_html("out.html", config={"displayModeBar": False},
               post_script="document.body.style.margin='0';document.body.style.overflow='hidden';")
